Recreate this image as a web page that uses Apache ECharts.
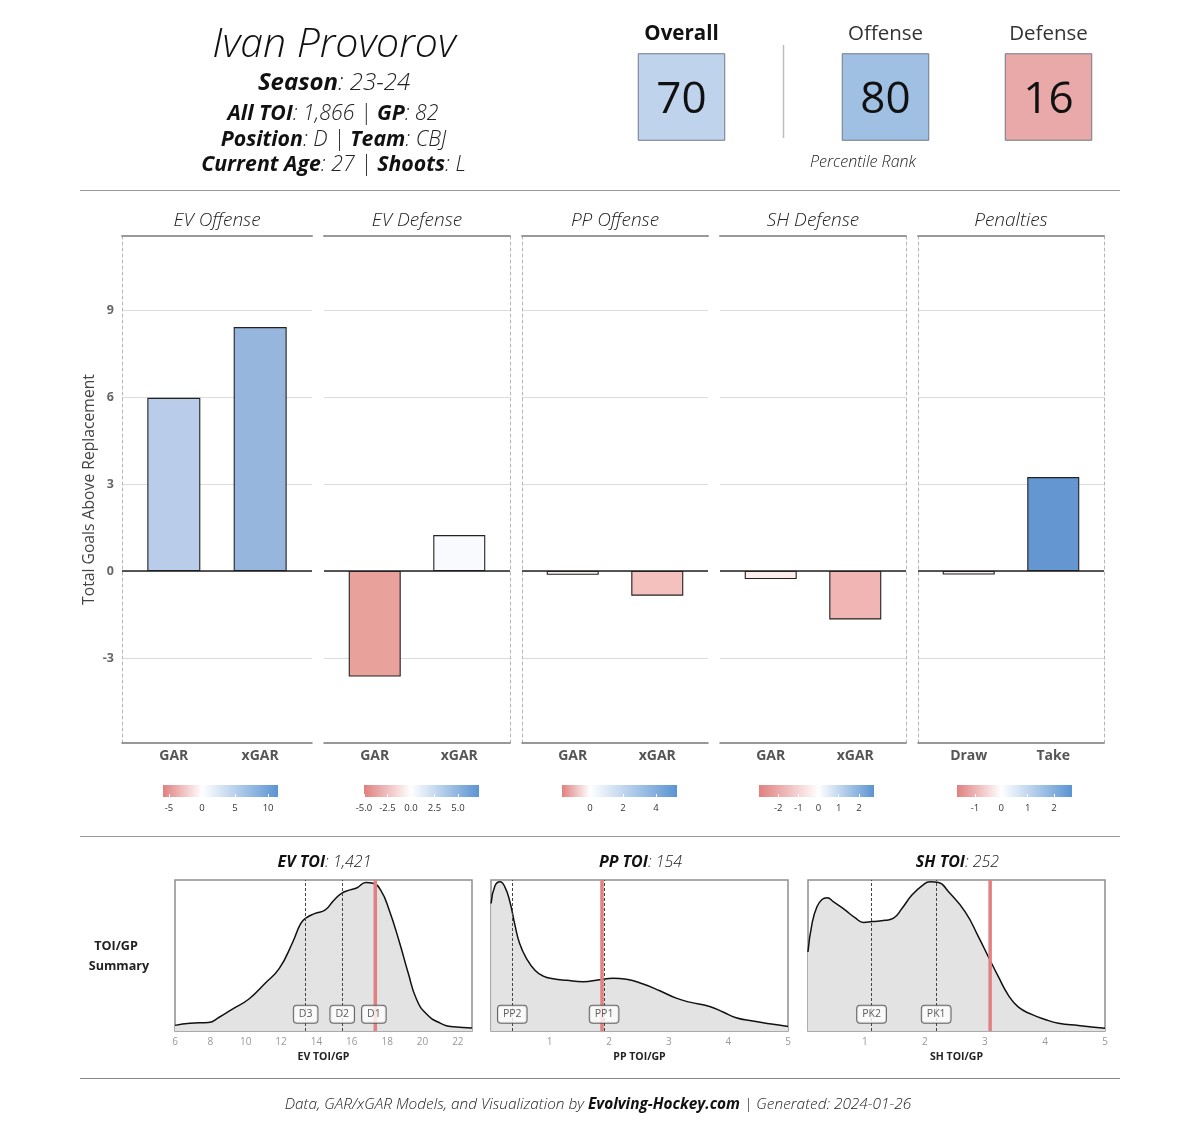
<!DOCTYPE html>
<html><head><meta charset="utf-8">
<style>html,body{margin:0;padding:0;background:#fff}#c{width:1200px;height:1140px}</style>
<script src="https://cdn.jsdelivr.net/npm/echarts@6/dist/echarts.min.js"></script>
</head><body><div id="c"></div>
<script>
// ---------- data ----------
const panelTitles = ['EV Offense','EV Defense','PP Offense','SH Defense','Penalties'];
const barCats = [['GAR','xGAR'],['GAR','xGAR'],['GAR','xGAR'],['GAR','xGAR'],['Draw','Take']];
const barVals = [[5.97,8.41],[-3.64,1.24],[-0.13,-0.85],[-0.28,-1.67],[-0.12,3.24]];
const barCols = [['#b9cdea','#97b6de'],['#e9a19c','#f8fafe'],['#f9efee','#f4c1bf'],['#fbeeec','#f1b5b3'],['#f4ecec','#6497d2']];
const yTicks = [-3,0,3,6,9];
const yRange = [-5.93,11.55];
const legRanges = [[-5.9,11.5],[-5,7.25],[-1.7,5.28],[-2.95,2.75],[-1.68,2.68]];
const legTicks = [[-5,0,5,10],[-5,-2.5,0,2.5,5],[0,2,4],[-2,-1,0,1,2],[-1,0,1,2]];
const legDigits = [0,1,0,0,0];

const scoreNames = ['Overall','Offense','Defense'];
const scoreVals = [70,80,16];
const scoreCols = ['#bfd4ec','#a0c0e3','#e8a9a8'];

const evX = [6,6.85,7.9,8.5,9.25,10.2,11.1,11.9,12.65,13.1,13.4,13.9,14.5,14.95,15.4,15.9,16.3,16.8,17.2,17.65,18.1,18.7,19.2,19.65,20.2,21,21.75,22.8];
const evY = [.03,.045,.05,.085,.14,.21,.315,.415,.59,.715,.755,.785,.81,.87,.92,.945,.96,.995,.99,.94,.815,.59,.38,.21,.11,.045,.02,.013];
const ppX = [.02,.085,.17,.25,.335,.42,.5,.615,.755,.895,1.06,1.285,1.565,1.84,2.065,2.29,2.57,2.85,3.125,3.35,3.685,3.91,4.13,4.41,4.69,5];
const ppY = [.853,.973,1,.966,.865,.707,.582,.481,.402,.363,.345,.334,.325,.339,.348,.341,.309,.264,.214,.187,.158,.12,.081,.059,.041,.023];
const shX = [.05,.118,.2,.284,.368,.478,.673,.839,.978,1.117,1.338,1.477,1.616,1.782,1.949,2.087,2.226,2.393,2.67,2.892,3.058,3.225,3.391,3.558,3.779,4,4.223,4.556,5];
const shY = [.526,.718,.831,.88,.892,.865,.808,.756,.725,.731,.74,.754,.819,.91,.973,1,.995,.932,.797,.628,.492,.357,.233,.153,.104,.07,.045,.029,.011];

const toiNames = ['EV','PP','SH'];
const toiTotals = ['1,421','154','252'];
const toiRanges = [[6,22.8],[.018,5],[.051,5]];
const toiTicks = [[6,8,10,12,14,16,18,20,22],[1,2,3,4,5],[1,2,3,4,5]];
const tierNames = [['D3','D2','D1'],['PP2','PP1'],['PK2','PK1']];
const tierVals = [[13.39,15.46,17.25],[.375,1.915],[1.11,2.187]];
const playerVals = [17.33,1.88,3.086];

// ---------- layout ----------
const FF = '"Open Sans"';
const panelBox = [[122,190],[324,186],[522,186],[720,186],[918,186]];
const panelDash = [[1,0],[0,1],[1,0],[0,1],[1,1]];
const barW = [53,52,52,52,52];
const legLeft = [163,364,562,759,957];
const toiBox = [[175,297],[491,297],[808,297]];
const scoreBox = [[638.5,86],[842.5,86],[1005.5,86]];

const grid=[],xAxis=[],yAxis=[],series=[],gfx=[];
function addGrid(g){grid.push(g);return grid.length-1;}
function T(x,y,text,style,rot){
  gfx.push({type:'text',x,y:y+1.5,rotation:rot||0,z:50,silent:true,
    style:Object.assign({text,align:'center',verticalAlign:'middle',fontFamily:FF,fill:'#111'},style)});
}
const richParts=(size)=>({
  b:{fontFamily:FF,fontWeight:700,fontStyle:'italic',fontSize:size,fill:'#111',color:'#111'},
  l:{fontFamily:FF,fontWeight:300,fontStyle:'italic',fontSize:size,fill:'#222',color:'#222'}
});
function L(x1,y1,x2,y2,c,w){gfx.push({type:'line',silent:true,z:40,shape:{x1,y1,x2,y2},style:{stroke:c,lineWidth:w}});}

// ---------- header ----------
T(334,44,'Ivan Provorov',{fontSize:41,fontStyle:'italic',fontWeight:300,fill:'#111'});
T(334,82,'{b|Season}{l|: 23-24}',{rich:richParts(24)});
T(333,112.5,'{b|All TOI}{l|: 1,866 | }{b|GP}{l|: 82}',{rich:richParts(21.3)});
T(333.5,138.5,'{b|Position}{l|: D | }{b|Team}{l|: CBJ}',{rich:richParts(21.3)});
T(333.5,163.5,'{b|Current Age}{l|: 27 | }{b|Shoots}{l|: L}',{rich:richParts(21.3)});
L(783.5,45,783.5,138,'#bdbdbd',1.5);
T(863,161,'Percentile Rank',{fontSize:16,fontStyle:'italic',fontWeight:300,fill:'#222'});
L(80,190.5,1120,190.5,'#999',1);
L(80,836.5,1120,836.5,'#999',1);
L(80,1078.5,1120,1078.5,'#888',1);
T(598,1103,'{l|Data, GAR/xGAR Models, and Visualization by }{b|Evolving-Hockey.com}{l| | Generated: 2024-01-26}',{rich:richParts(15.4)});
T(116,945,'TOI/GP',{fontSize:12.6,fontWeight:700,fill:'#222'});
T(119,965,'Summary',{fontSize:12.6,fontWeight:700,fill:'#222'});

// ---------- score tiles ----------
scoreVals.forEach((v,i)=>{
  const [l,w]=scoreBox[i];
  const g=addGrid({left:l,top:54,width:w,height:86});
  const xi=xAxis.length;
  xAxis.push({gridIndex:g,type:'category',data:[scoreNames[i]],show:false});
  yAxis.push({gridIndex:g,type:'category',data:['Percentile'],show:false});
  series.push({type:'heatmap',xAxisIndex:xi,yAxisIndex:xi,silent:true,
    data:[{value:[0,0,v],itemStyle:{color:scoreCols[i],borderColor:'#6f7a85',borderWidth:1}}],
    label:{show:true,formatter:String(v),offset:[0,3],fontFamily:FF,fontSize:44,color:'#111'}});
  T(l+w/2-(i==0?0:0),33,scoreNames[i],{fontSize:20.5,fontWeight:i==0?700:400,fill:i==0?'#111':'#333'});
});

// ---------- bar panels ----------
panelTitles.forEach((name,i)=>{
  const [l,w]=panelBox[i];
  const g=addGrid({left:l,top:236,width:w,height:507});
  const a=xAxis.length;
  const xr={min:0.4,max:2.6};
  xAxis.push(Object.assign({gridIndex:g,type:'value',position:'bottom',splitLine:{show:false},
    axisLine:{show:true,onZero:false,lineStyle:{color:'#777',width:1.5}},
    axisTick:{show:false},
    axisLabel:{customValues:[1,2],formatter:v=>barCats[i][v-1],margin:6,showMinLabel:true,showMaxLabel:true,
      fontFamily:FF,fontWeight:700,fontSize:14,color:'#555'}},xr));
  xAxis.push(Object.assign({gridIndex:g,type:'value',position:'top',splitLine:{show:false},
    axisLine:{show:true,onZero:false,lineStyle:{color:'#999',width:2}},axisTick:{show:false},axisLabel:{show:false}},xr));
  const yb={type:'value',gridIndex:g,min:yRange[0],max:yRange[1]};
  yAxis.push(Object.assign({},yb,{position:'left',
    name:i==0?'Total Goals Above Replacement':'',nameLocation:'middle',nameRotate:90,nameGap:24,
    nameTextStyle:{fontFamily:FF,fontSize:15.7,color:'#444'},
    axisLine:{show:!!panelDash[i][0],onZero:false,lineStyle:{color:'#b5b5b5',type:[3,3],width:1}},
    axisTick:{show:false,customValues:yTicks},
    splitLine:{show:true,lineStyle:{color:'#dcdcdc',width:1}},
    axisLabel:{show:i==0,customValues:yTicks,margin:8,fontFamily:FF,fontWeight:700,fontSize:12.5,color:'#666'}}));
  yAxis.push(Object.assign({},yb,{position:'right',
    axisLine:{show:!!panelDash[i][1],onZero:false,lineStyle:{color:'#b5b5b5',type:[3,3],width:1}},
    axisTick:{show:false},splitLine:{show:false},axisLabel:{show:false}}));
  series.push({type:'bar',xAxisIndex:a,yAxisIndex:a,barWidth:barW[i],silent:true,
    data:barVals[i].map((v,k)=>({value:[k+1,v],itemStyle:{color:barCols[i][k],borderColor:'#222',borderWidth:1.1}})),
    markLine:{silent:true,symbol:'none',label:{show:false},lineStyle:{color:'#222',width:1.5,type:'solid'},data:[{yAxis:0}]}});
  T(l+w/2,219,name,{fontSize:19,fontStyle:'italic',fontWeight:300,fill:'#222'});
});

// ---------- colour bars ----------
legRanges.forEach((r,i)=>{
  const g=addGrid({left:legLeft[i],top:785,width:115,height:12});
  const a=xAxis.length;
  const d=legDigits[i];
  xAxis.push({gridIndex:g,type:'value',position:'bottom',min:r[0],max:r[1],z:5,splitLine:{show:false},axisLine:{show:false},
    axisTick:{show:true,inside:true,length:3,customValues:legTicks[i],lineStyle:{color:'#fff',width:1}},
    axisLabel:{customValues:legTicks[i],formatter:v=>v.toFixed(d),margin:6.5,fontFamily:FF,fontSize:9.5,color:'#333',hideOverlap:false}});
  xAxis.push({gridIndex:g,type:'value',position:'top',min:r[0],max:r[1],z:5,splitLine:{show:false},axisLine:{show:false},
    axisTick:{show:true,inside:true,length:3,customValues:legTicks[i],lineStyle:{color:'#fff',width:1}},axisLabel:{show:false}});
  yAxis.push({gridIndex:g,type:'value',min:0,max:1,show:false});
  yAxis.push({gridIndex:g,type:'value',min:0,max:1,show:false});
  const z=(0-r[0])/(r[1]-r[0]);
  series.push({type:'custom',xAxisIndex:a,yAxisIndex:a,silent:true,clip:false,
    data:[[r[0],0,r[1],1]],encode:{x:[0,2],y:[1,3]},
    renderItem:(p,api)=>{
      const s=api.coord([api.value(0),api.value(3)]),e=api.coord([api.value(2),api.value(1)]);
      return {type:'rect',shape:{x:s[0],y:s[1],width:e[0]-s[0],height:e[1]-s[1]},
        style:{fill:new echarts.graphic.LinearGradient(0,0,1,0,[
          {offset:0,color:'#e0807f'},{offset:z,color:'#ffffff'},{offset:1,color:'#5b94d3'}])}};
    }});
});

// ---------- density panels ----------
const toiXs=[evX,ppX,shX],toiYs=[evY,ppY,shY];
const yLo=-0.008,yHi=1.012,labelY=0.105;
toiNames.forEach((n,i)=>{
  const [l,w]=toiBox[i];
  const g=addGrid({left:l,top:880,width:w,height:151,show:true,borderColor:'#8f8f8f',borderWidth:1.5,backgroundColor:'transparent'});
  const a=xAxis.length;
  xAxis.push({gridIndex:g,type:'value',min:toiRanges[i][0],max:toiRanges[i][1],splitLine:{show:false},
    axisLine:{show:false,onZero:false},axisTick:{show:false,customValues:toiTicks[i]},
    name:n+' TOI/GP',nameLocation:'middle',nameGap:21,
    nameTextStyle:{fontFamily:FF,fontWeight:700,fontSize:10.5,color:'#222'},
    axisLabel:{customValues:toiTicks[i],margin:6,fontFamily:FF,fontSize:10,color:'#999'}});
  yAxis.push({gridIndex:g,type:'value',min:yLo,max:yHi,show:false});
  series.push({type:'line',xAxisIndex:a,yAxisIndex:a,silent:true,smooth:0.5,symbol:'none',z:2,
    data:toiXs[i].map((x,k)=>[x,toiYs[i][k]]),
    lineStyle:{color:'#111',width:1.5},areaStyle:{color:'#e3e3e3',opacity:1,origin:'start'},
    markLine:{silent:true,symbol:'none',z:3,label:{show:false},lineStyle:{color:'#444',width:1,type:[3,2]},
      data:tierVals[i].map(v=>({xAxis:v}))}});
  series.push({type:'line',xAxisIndex:a,yAxisIndex:a,silent:true,symbol:'none',z:4,
    data:[[playerVals[i],yLo],[playerVals[i],yHi]],lineStyle:{color:'#e28080',width:3.5}});
  series.push({type:'scatter',xAxisIndex:a,yAxisIndex:a,silent:true,symbolSize:1,z:6,
    itemStyle:{color:'transparent'},
    data:tierVals[i].map((v,k)=>({value:[v,labelY],name:tierNames[i][k]})),
    label:{show:true,position:'inside',formatter:p=>p.name,fontFamily:FF,fontSize:10.5,color:'#333',
      backgroundColor:'#fff',borderColor:'#444',borderWidth:1,borderRadius:3,padding:[3,5]}});
  T(l+w/2+1,860.5,`{b|${n} TOI}{l|: ${toiTotals[i]}}`,{rich:richParts(16)});
});

const chart=echarts.init(document.getElementById('c'),null,{renderer:'canvas',width:1200,height:1140});
chart.setOption({animation:false,backgroundColor:'#fff',grid,xAxis,yAxis,series,graphic:{elements:gfx}});
</script></body></html>
